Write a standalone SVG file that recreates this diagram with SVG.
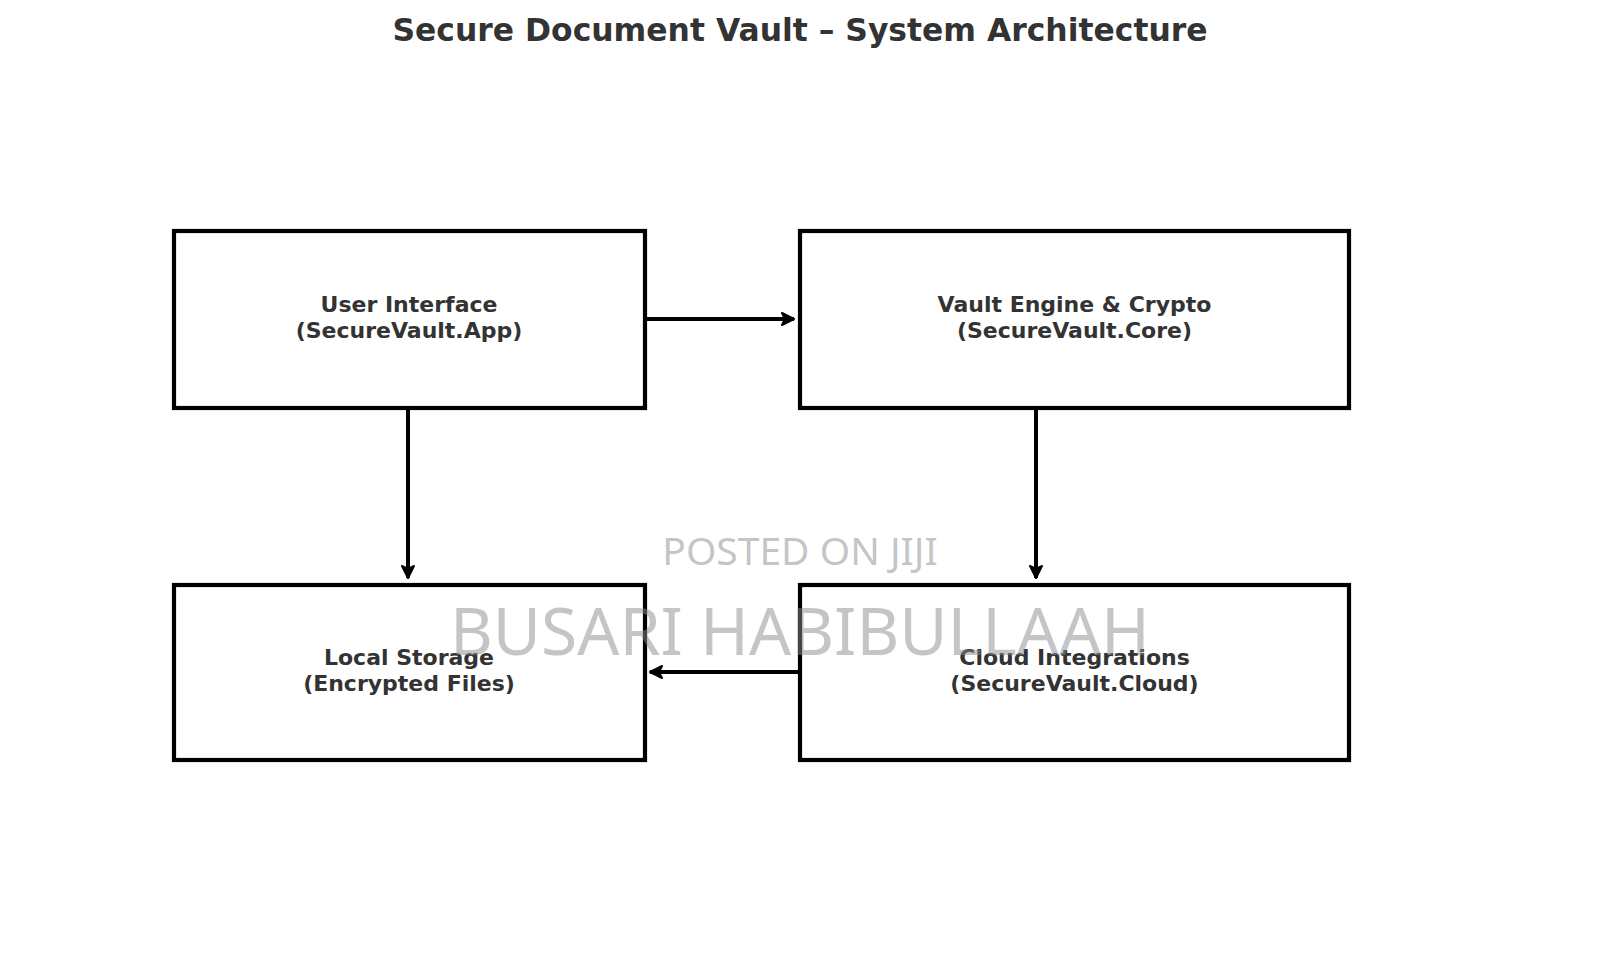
<svg xmlns="http://www.w3.org/2000/svg" width="1600" height="954" viewBox="0 0 1600 954">
<style>
.box{fill:#fff;stroke:#000;stroke-width:4.2}
.lbl{font-family:"DejaVu Sans",sans-serif;font-weight:bold;font-size:22px;fill:#333;text-anchor:middle}
.title{font-family:"DejaVu Sans",sans-serif;font-weight:bold;font-size:31.4px;fill:#333;text-anchor:middle}
.wm{font-family:"Noto Sans","Open Sans",sans-serif;fill:#888c90;fill-opacity:0.5;text-anchor:middle}
.conn{stroke:#000;stroke-width:4;fill:none}
</style>
<defs>
<marker id="ah" viewBox="0 0 16 16" refX="14" refY="8" markerWidth="16" markerHeight="16" markerUnits="userSpaceOnUse" orient="auto">
<path d="M2,2 L14,8 L2,14 L5,8 z" fill="#000" stroke="#000" stroke-width="2" stroke-linejoin="round"/>
</marker>
</defs>
<rect width="1600" height="954" fill="#fff"/>
<text class="title" x="800" y="41">Secure Document Vault – System Architecture</text>
<g id="node-ui">
<rect class="box" x="174" y="231" width="471" height="177"/>
<text class="lbl" x="409" y="312">User Interface</text>
<text class="lbl" x="409" y="338">(SecureVault.App)</text>
</g>
<g id="node-core">
<rect class="box" x="800" y="231" width="549" height="177"/>
<text class="lbl" x="1074.5" y="312">Vault Engine &amp; Crypto</text>
<text class="lbl" x="1074.5" y="338">(SecureVault.Core)</text>
</g>
<g id="node-local">
<rect class="box" x="174" y="585" width="471" height="175"/>
<text class="lbl" x="409" y="665">Local Storage</text>
<text class="lbl" x="409" y="691">(Encrypted Files)</text>
</g>
<g id="node-cloud">
<rect class="box" x="800" y="585" width="549" height="175"/>
<text class="lbl" x="1074.5" y="665">Cloud Integrations</text>
<text class="lbl" x="1074.5" y="691">(SecureVault.Cloud)</text>
</g>
<g id="connectors">
<line class="conn" x1="647" y1="319" x2="794" y2="319" marker-end="url(#ah)"/>
<line class="conn" x1="408" y1="410" x2="408" y2="578" marker-end="url(#ah)"/>
<line class="conn" x1="1036" y1="410" x2="1036" y2="578" marker-end="url(#ah)"/>
<line class="conn" x1="798" y1="672" x2="650" y2="672" marker-end="url(#ah)"/>
</g>
<text class="wm" x="800" y="565" font-size="39">POSTED ON JIJI</text>
<text class="wm" x="800" y="655" font-size="66">BUSARI HABIBULLAAH</text>
</svg>
